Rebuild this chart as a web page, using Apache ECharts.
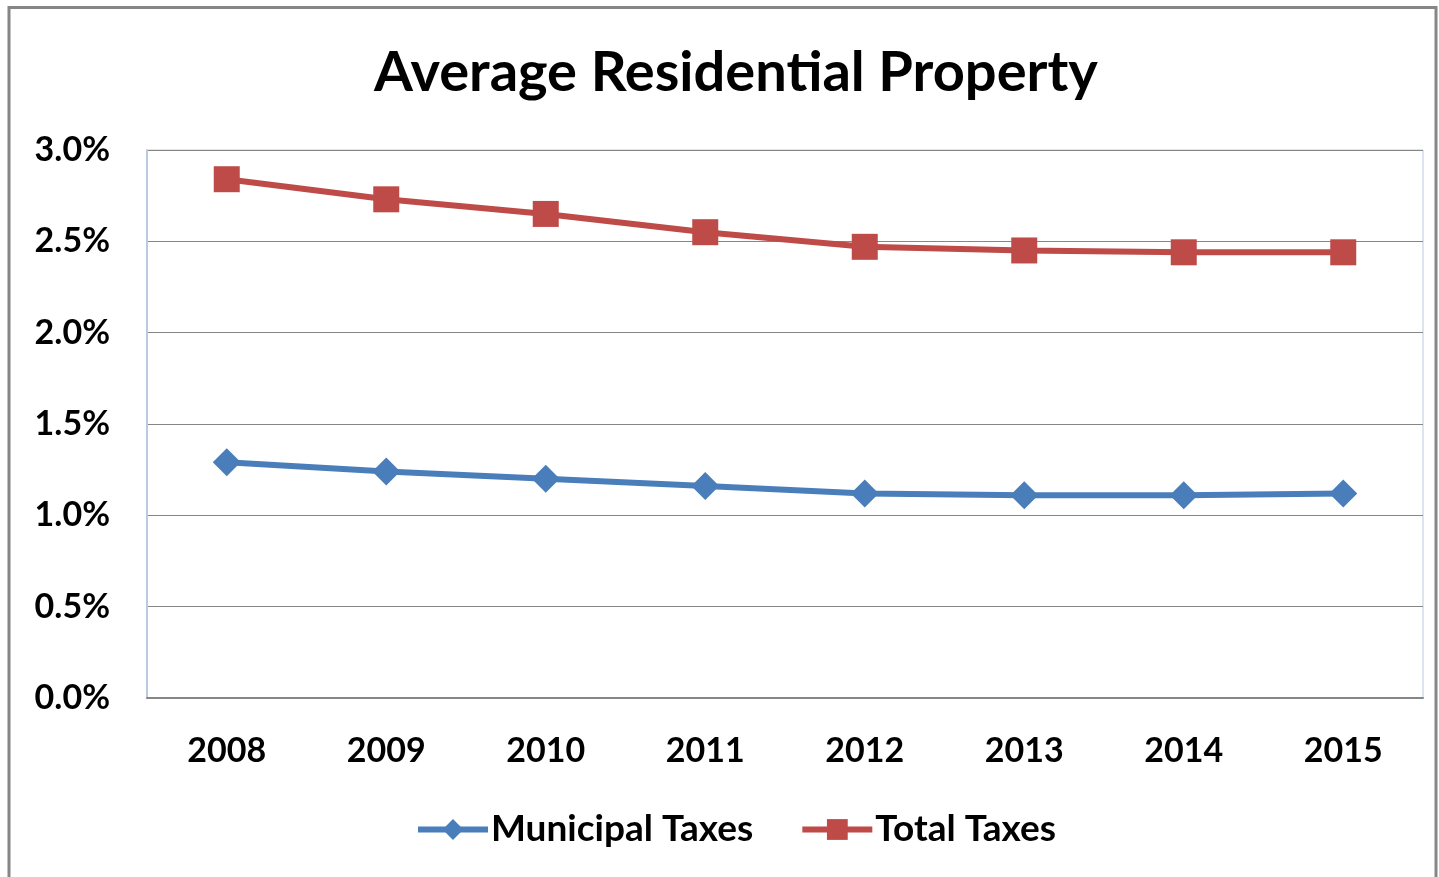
<!DOCTYPE html>
<html>
<head>
<meta charset="utf-8">
<script src="https://cdn.jsdelivr.net/npm/echarts@6/dist/echarts.min.js"></script>
<style>
html,body{margin:0;padding:0;background:#fff;}
#chart{width:1439px;height:877px;}
</style>
</head>
<body>
<div id="chart"></div>
<script>
// Years on the category axis
const years = ['2008', '2009', '2010', '2011', '2012', '2013', '2014', '2015'];
// Tax rate as a percent of average residential property value
const municipalTaxes = [1.29, 1.24, 1.20, 1.16, 1.12, 1.11, 1.11, 1.12];
const totalTaxes = [2.84, 2.73, 2.65, 2.55, 2.47, 2.45, 2.44, 2.44];
// Y-axis scale
const yMin = 0, yMax = 3, yStep = 0.5;

const FONT = 'Lato, "Open Sans", sans-serif';
const chart = echarts.init(document.getElementById('chart'), null, { renderer: 'canvas' });

chart.setOption({
  backgroundColor: '#ffffff',
  animation: false,
  title: {
    text: 'Average Residential Property',
    left: 374,
    top: 45,
    padding: 0,
    textStyle: { fontFamily: FONT, fontSize: 56, fontWeight: 'bold', color: '#000' }
  },
  graphic: [{
    type: 'polyline',
    shape: { points: [[9, 900], [9, 7.5], [1436, 7.5], [1436, 900]] },
    style: { stroke: '#868686', lineWidth: 3, fill: null }
  }],
  legend: {
    top: 806,
    left: 410,
    itemWidth: 70,
    itemHeight: 26,
    itemGap: 46,
    lineStyle: { width: 6 },
    textStyle: { fontFamily: FONT, fontSize: 37, fontWeight: 'bold', color: '#000', padding: [0, 0, 0, -2] },
    data: ['Municipal Taxes', 'Total Taxes']
  },
  grid: { left: 147, right: 16, top: 150, bottom: 179, containLabel: false,
          show: true, borderColor: '#b9cbe0', borderWidth: 1 },
  xAxis: {
    type: 'category',
    data: years,
    boundaryGap: true,
    axisLine: { show: true, lineStyle: { color: '#868686', width: 2 } },
    axisTick: { show: false },
    axisLabel: { fontFamily: FONT, fontSize: 34, fontWeight: 'bold', color: '#000', margin: 36 }
  },
  yAxis: {
    type: 'value',
    min: yMin, max: yMax, interval: yStep,
    axisLine: { show: true, lineStyle: { color: '#b9cbe0', width: 2 } },
    axisTick: { show: false },
    splitLine: { show: true, lineStyle: { color: '#868686', width: 1 } },
    axisLabel: {
      fontFamily: FONT, fontSize: 34, fontWeight: 'bold', color: '#000', margin: 37,
      formatter: v => v.toFixed(1) + '%'
    }
  },
  series: [
    {
      name: 'Municipal Taxes',
      type: 'line',
      data: municipalTaxes,
      symbol: 'diamond',
      symbolSize: 28,
      color: '#4a7ebb',
      lineStyle: { width: 6, color: '#4a7ebb' },
      itemStyle: { color: '#4a7ebb' }
    },
    {
      name: 'Total Taxes',
      type: 'line',
      data: totalTaxes,
      symbol: 'rect',
      symbolSize: 26,
      color: '#be4b48',
      lineStyle: { width: 6, color: '#be4b48' },
      itemStyle: { color: '#be4b48' }
    }
  ]
});
</script>
</body>
</html>
